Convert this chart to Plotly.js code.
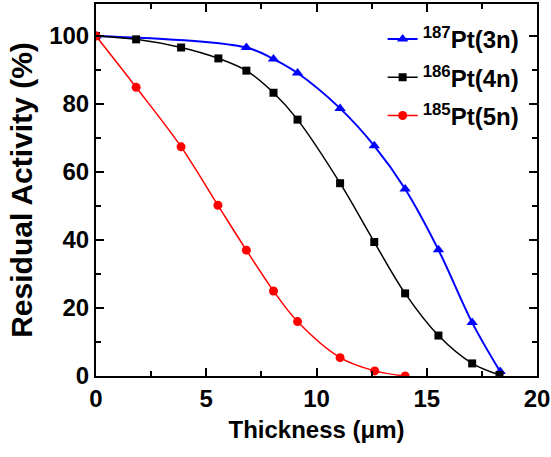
<!DOCTYPE html>
<html>
<head>
<meta charset="utf-8">
<script src="https://cdn.plot.ly/plotly-3.0.1.min.js"></script>
<style>html,body{margin:0;padding:0;background:#fff;}#chart{width:551px;height:457px;}</style>
</head>
<body>
<div id="chart"></div>
<script>
// Thickness (um) and residual activity (%)
var pt187_x = [0, 6.82, 8.05, 9.14, 11.07, 12.62, 14.02, 15.53, 17.06, 18.33];
var pt187_y = [100, 96.6, 93.2, 89.1, 78.7, 67.7, 55.0, 37.1, 15.7, 1.3];

var pt186_x = [0, 1.82, 3.86, 5.55, 6.82, 8.05, 9.14, 11.07, 12.62, 14.02, 15.53, 17.06, 18.3];
var pt186_y = [100, 99.0, 96.6, 93.4, 89.8, 83.3, 75.4, 56.7, 39.4, 24.3, 11.9, 3.7, 0.3];

var pt185_x = [0, 1.82, 3.86, 5.53, 6.82, 8.05, 9.14, 11.07, 12.64, 14.02];
var pt185_y = [100, 84.9, 67.4, 50.2, 37.0, 25.0, 16.0, 5.4, 1.5, 0.0];

var seriesNames = ['<sup>187</sup>Pt(3n)', '<sup>186</sup>Pt(4n)', '<sup>185</sup>Pt(5n)'];

var FONT = '"Liberation Sans", Arial, sans-serif';

var traces = [
  {x: pt187_x, y: pt187_y, name: seriesNames[0], legendgroup: 'a', mode: 'lines+markers',
   line: {color: '#0000ff', width: 2, shape: 'spline', smoothing: 1},
   marker: {symbol: 'triangle-up', size: 10, color: '#0000ff'}},
  {x: pt186_x, y: pt186_y, name: seriesNames[1], legendgroup: 'b', mode: 'lines+markers',
   line: {color: '#000000', width: 1.5, shape: 'spline', smoothing: 1},
   marker: {symbol: 'square', size: 8, color: '#000000'}},
  {x: pt185_x, y: pt185_y, name: seriesNames[2], legendgroup: 'c', mode: 'lines+markers',
   line: {color: '#ff0000', width: 1.5, shape: 'spline', smoothing: 1},
   marker: {symbol: 'circle', size: 9, color: '#ff0000'}}
];

var axisCommon = {
  showline: true, linecolor: '#000', linewidth: 2, mirror: 'allticks',
  ticks: 'inside', ticklen: 8, tickwidth: 2, tickcolor: '#000',
  showgrid: false, zeroline: false, ticklabeloverflow: 'allow',
  tickfont: {family: FONT, size: 24, color: '#000', weight: 'bold'}
};

var layout = {
  width: 551, height: 457,
  margin: {l: 96, r: 14, t: 4, b: 81},
  paper_bgcolor: '#fff', plot_bgcolor: '#fff',
  showlegend: true,
  legend: {x: 0.65, y: 0.965, xanchor: 'left', yanchor: 'top', tracegroupgap: 4,
    bgcolor: 'rgba(0,0,0,0)', font: {family: FONT, size: 24, color: '#000', weight: 'bold'}},
  xaxis: Object.assign({}, axisCommon, {
    range: [0, 20], dtick: 5, tick0: 0,
    minor: {ticks: 'inside', ticklen: 5, tickwidth: 2, dtick: 2.5, tickcolor: '#000'},
    title: {text: 'Thickness (\u03bcm)', font: {family: FONT, size: 24, color: '#000', weight: 'bold'}, standoff: 10}
  }),
  yaxis: Object.assign({}, axisCommon, {
    range: [0, 109.4], dtick: 20, tick0: 0,
    minor: {ticks: 'inside', ticklen: 5, tickwidth: 2, dtick: 10, tickcolor: '#000'},
    title: {text: 'Residual Activity (%)', font: {family: FONT, size: 30, color: '#000', weight: 'bold'}, standoff: 8}
  })
};

Plotly.newPlot('chart', traces, layout, {staticPlot: true, displayModeBar: false});
</script>
</body>
</html>
